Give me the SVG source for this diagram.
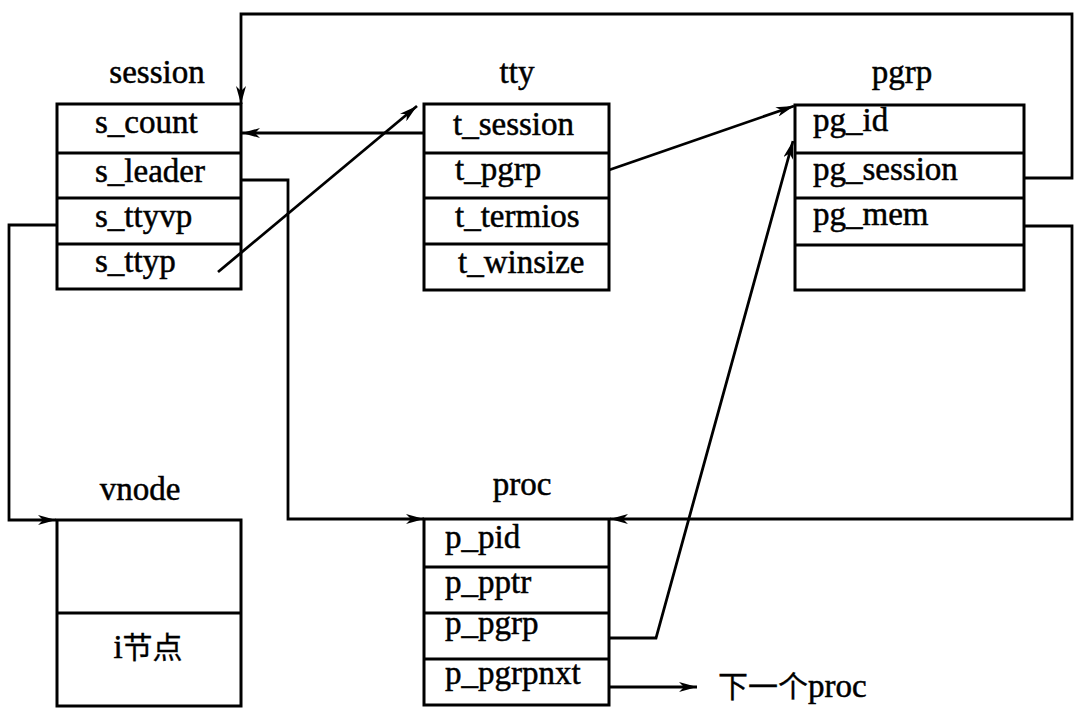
<svg xmlns="http://www.w3.org/2000/svg" width="1080" height="715" viewBox="0 0 1080 715">
<defs>
<marker id="ah" viewBox="0 0 18 10" refX="18" refY="5" markerWidth="18" markerHeight="10" markerUnits="userSpaceOnUse" orient="auto">
<path d="M0,0 L18,5 L0,10 L5,5 Z" fill="#000"/>
</marker>
</defs>
<style>
.box{fill:#fff;stroke:#000;stroke-width:3}
.div{stroke:#000;stroke-width:3}
.t{font-family:"Liberation Serif","Noto Sans CJK SC",serif;font-size:33px;fill:#000;stroke:#000;stroke-width:0.5}
.cjk{font-size:30px;stroke-width:0.3}
.lbl{text-anchor:middle}
.c{fill:none;stroke:#000;stroke-width:2.8}
</style>
<rect width="1080" height="715" fill="#fff"/>
<g id="session">
<text class="t lbl" x="157" y="83">session</text>
<rect class="box" x="57" y="104" width="184" height="185"/>
<line class="div" x1="57" y1="153" x2="241" y2="153"/>
<line class="div" x1="57" y1="198" x2="241" y2="198"/>
<line class="div" x1="57" y1="244" x2="241" y2="244"/>
<text class="t" x="95" y="133">s_count</text>
<text class="t" x="95" y="182">s_leader</text>
<text class="t" x="95" y="227">s_ttyvp</text>
<text class="t" x="95" y="272">s_ttyp</text>
</g>
<g id="tty">
<text class="t lbl" x="517" y="83">tty</text>
<rect class="box" x="424" y="104" width="185" height="186"/>
<line class="div" x1="424" y1="153" x2="609" y2="153"/>
<line class="div" x1="424" y1="198" x2="609" y2="198"/>
<line class="div" x1="424" y1="244" x2="609" y2="244"/>
<text class="t" x="453" y="135">t_session</text>
<text class="t" x="455" y="180">t_pgrp</text>
<text class="t" x="455" y="227">t_termios</text>
<text class="t" x="458" y="273">t_winsize</text>
</g>
<g id="pgrp">
<text class="t lbl" x="902" y="83">pgrp</text>
<rect class="box" x="795" y="105" width="229" height="185"/>
<line class="div" x1="795" y1="153" x2="1024" y2="153"/>
<line class="div" x1="795" y1="198" x2="1024" y2="198"/>
<line class="div" x1="795" y1="245" x2="1024" y2="245"/>
<text class="t" x="813" y="131">pg_id</text>
<text class="t" x="813" y="180">pg_session</text>
<text class="t" x="813" y="225">pg_mem</text>
</g>
<g id="vnode">
<text class="t lbl" x="140" y="500">vnode</text>
<rect class="box" x="57" y="520" width="184" height="186"/>
<line class="div" x1="57" y1="613" x2="241" y2="613"/>
<text class="t lbl" x="148" y="658">i<tspan class="cjk">节点</tspan></text>
</g>
<g id="proc">
<text class="t lbl" x="522" y="495">proc</text>
<rect class="box" x="424" y="519" width="185" height="186"/>
<line class="div" x1="424" y1="567" x2="609" y2="567"/>
<line class="div" x1="424" y1="613" x2="609" y2="613"/>
<line class="div" x1="424" y1="659" x2="609" y2="659"/>
<text class="t" x="445" y="548">p_pid</text>
<text class="t" x="445" y="593">p_pptr</text>
<text class="t" x="445" y="634">p_pgrp</text>
<text class="t" x="445" y="684">p_pgrpnxt</text>
</g>
<g id="next">
<text class="t" x="718" y="697"><tspan class="cjk">下一个</tspan>proc</text>
</g>
<g id="connectors">
<polyline class="c" points="1024,178 1072,178 1072,14 241,14 241,104" marker-end="url(#ah)"/>
<line class="c" x1="424" y1="133" x2="242" y2="133" marker-end="url(#ah)"/>
<line class="c" x1="218" y1="272" x2="417" y2="106" marker-end="url(#ah)"/>
<line class="c" x1="609" y1="170" x2="794" y2="106" marker-end="url(#ah)"/>
<polyline class="c" points="241,180 288,180 288,519 424,519" marker-end="url(#ah)"/>
<polyline class="c" points="57,225 9,225 9,520 56,520" marker-end="url(#ah)"/>
<polyline class="c" points="1024,226 1072,226 1072,519 610,519" marker-end="url(#ah)"/>
<polyline class="c" points="609,638 656,638 793,141" marker-end="url(#ah)"/>
<line class="c" x1="609" y1="687" x2="697" y2="687" marker-end="url(#ah)"/>
</g>
</svg>
